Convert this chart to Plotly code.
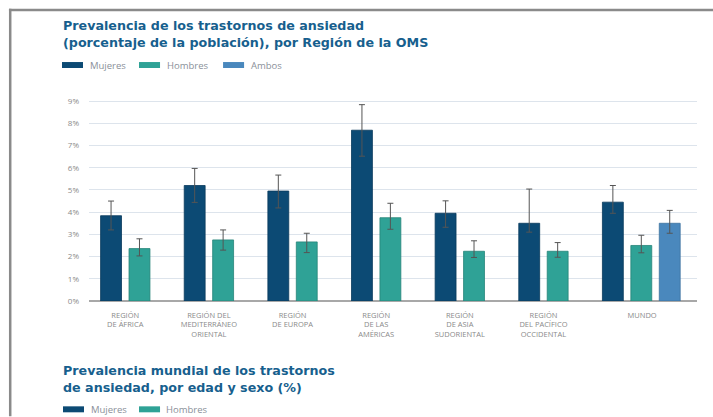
import plotly.graph_objects as go

# ---------------- data ----------------
regiones = [
    "REGIÓN<br>DE ÁFRICA",
    "REGIÓN DEL<br>MEDITERRÁNEO<br>ORIENTAL",
    "REGIÓN<br>DE EUROPA",
    "REGIÓN<br>DE LAS<br>AMÉRICAS",
    "REGIÓN<br>DE ASIA<br>SUDORIENTAL",
    "REGIÓN<br>DEL PACÍFICO<br>OCCIDENTAL",
    "MUNDO",
]
mujeres = [3.84, 5.20, 4.95, 7.69, 3.95, 3.50, 4.45]
mujeres_hi = [4.50, 5.97, 5.67, 8.84, 4.51, 5.04, 5.20]
mujeres_lo = [3.20, 4.44, 4.19, 6.52, 3.32, 3.10, 3.95]
hombres = [2.36, 2.75, 2.66, 3.75, 2.24, 2.24, 2.50]
hombres_hi = [2.80, 3.20, 3.05, 4.40, 2.71, 2.63, 2.96]
hombres_lo = [2.03, 2.29, 2.18, 3.23, 1.96, 1.97, 2.17]
ambos_cat = ["MUNDO"]
ambos = [3.50]
ambos_hi = [4.08]
ambos_lo = [3.05]
y_ticks = [0, 1, 2, 3, 4, 5, 6, 7, 8, 9]
serie_nombres = ["Mujeres", "Hombres", "Ambos"]

# ---------------- layout geometry ----------------
W, H = 713, 417
ML, MR, MT, MB = 89, 16.3, 99.6, 115.7
PW, PH = W - ML - MR, H - MT - MB

def px(x):
    return (x - ML) / PW

def py(y):
    return (H - MB - y) / PH

xpos = list(range(len(regiones)))
xpos_amb = [xpos[regiones.index(c)] for c in ambos_cat]
tickpos = [p + (0.18 if regiones[p] == "MUNDO" else 0) for p in xpos]

C_M, C_H, C_A = "#0c4a74", "#2fa296", "#4a88bd"
COLORS = [C_M, C_H, C_A]
ERR = dict(type="data", symmetric=False, color="#555555", thickness=1, width=3)

fig = go.Figure()
fig.add_trace(go.Bar(
    x=xpos, y=mujeres, name=serie_nombres[0], marker=dict(color=C_M, line=dict(color="#093a5c", width=0.8)),
    width=0.25, offset=-0.295,
    error_y=dict(ERR, array=[h - v for h, v in zip(mujeres_hi, mujeres)],
                 arrayminus=[v - l for v, l in zip(mujeres, mujeres_lo)]),
))
fig.add_trace(go.Bar(
    x=xpos, y=hombres, name=serie_nombres[1], marker=dict(color=C_H, line=dict(color="#268479", width=0.8)),
    width=0.25, offset=0.045,
    error_y=dict(ERR, array=[h - v for h, v in zip(hombres_hi, hombres)],
                 arrayminus=[v - l for v, l in zip(hombres, hombres_lo)]),
))
fig.add_trace(go.Bar(
    x=xpos_amb, y=ambos, name=serie_nombres[2], marker=dict(color=C_A, line=dict(color="#3d72a0", width=0.8)),
    width=0.25, offset=0.385,
    error_y=dict(ERR, array=[h - v for h, v in zip(ambos_hi, ambos)],
                 arrayminus=[v - l for v, l in zip(ambos, ambos_lo)]),
))

TITLE_C = "#175f8e"
TFONT = "DejaVu Sans"
FONT = "Open Sans"
LEG_C = "#8a9099"

annotations = [
    dict(text="<b>Prevalencia de los trastornos de ansiedad<br>(porcentaje de la población), por Región de la OMS</b>",
         x=px(61), y=py(33.5), xref="paper", yref="paper", xanchor="left", yanchor="middle",
         align="left", showarrow=False,
         font=dict(family=TFONT, size=12.7, color=TITLE_C)),
    dict(text="<b>Prevalencia mundial de los trastornos<br>de ansiedad, por edad y sexo (%)</b>",
         x=px(61), y=py(380), xref="paper", yref="paper", xanchor="left", yanchor="middle",
         align="left", showarrow=False,
         font=dict(family=TFONT, size=12.7, color=TITLE_C)),
]

shapes = [
    # frame (top + left edge of the framed panel)
    dict(type="rect", xref="paper", yref="paper", x0=px(9), x1=px(713), y0=py(10.5), y1=py(8),
         fillcolor="#8a8a8a", line=dict(width=0), layer="above"),
    dict(type="rect", xref="paper", yref="paper", x0=px(9), x1=px(11.5), y0=py(417), y1=py(8),
         fillcolor="#8a8a8a", line=dict(width=0), layer="above"),
]

# legend swatches (top: all three series, bottom: Mujeres / Hombres)
legend_rows = [
    (64.5, [(62, 88), (139, 165), (223, 249)], serie_nombres),
    (410.0, [(63, 89), (139, 164)], serie_nombres[:2]),
]
for yc, pos, names in legend_rows:
    for (sx, tx), name in zip(pos, names):
        col = COLORS[serie_nombres.index(name)]
        shapes.append(dict(type="rect", xref="paper", yref="paper", x0=px(sx), x1=px(sx + 21),
                           y0=py(yc + 3), y1=py(yc - 3), fillcolor=col, line=dict(width=0)))
        annotations.append(dict(text=name, x=px(tx), y=py(yc), xref="paper", yref="paper",
                                xanchor="left", yanchor="middle", showarrow=False,
                                font=dict(family=FONT, size=9.5, color=LEG_C)))

fig.update_layout(
    width=W, height=H,
    margin=dict(l=ML, r=MR, t=MT, b=MB, pad=0),
    paper_bgcolor="white", plot_bgcolor="white",
    barmode="overlay",
    showlegend=False,
    font=dict(family=FONT, color="#888888"),
    annotations=annotations,
    shapes=shapes,
    xaxis=dict(range=[-0.4336, 6.836], tickvals=tickpos, ticktext=regiones,
               tickfont=dict(family=FONT, size=7.5, color="#8a8a8a"), showgrid=False,
               zeroline=False, showline=False, ticks="", ticklabelstandoff=8, fixedrange=True),
    yaxis=dict(range=[0, 9.05], tickvals=y_ticks, ticktext=[f"{v}%" for v in y_ticks],
               tickfont=dict(family=FONT, size=8, color="#8a8a8a"), showgrid=True,
               gridcolor="#dde4ec", gridwidth=1, zeroline=True, zerolinecolor="#a8a8a8",
               zerolinewidth=1.5, ticks="", ticklabelstandoff=9, fixedrange=True),
)

fig.write_html(
    "out.html",
    config={"displayModeBar": False},
    post_script="document.body.style.margin='0px';document.body.style.overflow='hidden';",
)
